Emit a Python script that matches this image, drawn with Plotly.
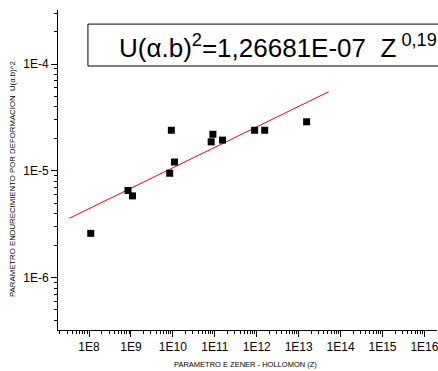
import plotly.graph_objects as go

# Data
z_vals = [1.1e8, 8.5e8, 1.09e9, 8.4e9, 1.09e10, 9.2e9, 8.2e10, 9.0e10, 1.53e11, 8.9e11, 1.55e12, 1.55e13]
u_vals = [2.6e-6, 6.55e-6, 5.83e-6, 9.5e-6, 1.21e-5, 2.4e-5, 1.87e-5, 2.2e-5, 1.94e-5, 2.4e-5, 2.4e-5, 2.88e-5]

fit_x = [3.4e7, 5.2e13]
fit_y = [3.6e-6, 5.5e-5]

x_tickvals = [1e8, 1e9, 1e10, 1e11, 1e12, 1e13, 1e14, 1e15, 1e16]
x_ticktext = ["1E8", "1E9", "1E10", "1E11", "1E12", "1E13", "1E14", "1E15", "1E16"]
y_tickvals = [1e-6, 1e-5, 1e-4]
y_ticktext = ["1E-6", "1E-5", "1E-4"]

x_minor = [k * 10.0 ** e for e in range(7, 17) for k in range(2, 10)]
y_minor = [k * 10.0 ** e for e in range(-7, -3) for k in range(2, 10)]

FONT = "Arial, Liberation Sans, sans-serif"

fig = go.Figure()
fig.add_trace(go.Scatter(x=fit_x, y=fit_y, mode="lines",
                         line=dict(color="#ff0000", width=1), showlegend=False))
fig.add_trace(go.Scatter(x=z_vals, y=u_vals, mode="markers",
                         marker=dict(symbol="square", size=7, color="black"),
                         showlegend=False))

axis_common = dict(showgrid=False, zeroline=False, showline=True, linecolor="black",
                   linewidth=1, ticks="outside", tickcolor="black", ticklen=6,
                   ticklabeloverflow="allow",
                   tickfont=dict(family=FONT, size=12, color="black"))

fig.update_xaxes(type="log", range=[7.26, 16.3], tickmode="array",
                 tickvals=x_tickvals, ticktext=x_ticktext,
                 minor=dict(ticks="outside", ticklen=3, tickcolor="black", tickmode="array",
                            tickvals=x_minor, showgrid=False),
                 **axis_common)
fig.update_yaxes(type="log", range=[-6.49, -3.494], tickmode="array",
                 tickvals=y_tickvals, ticktext=y_ticktext,
                 minor=dict(ticks="outside", ticklen=3, tickcolor="black", tickmode="array",
                            tickvals=y_minor, showgrid=False),
                 **axis_common)

# Equation box
fig.add_shape(type="rect", xref="paper", yref="paper", x0=0.079, x1=1.3, y0=0.825, y1=0.956,
              line=dict(color="black", width=1), fillcolor="rgba(0,0,0,0)")
fig.add_annotation(xref="paper", yref="paper", x=(117 - 58) / 379, y=0.885, xanchor="left", yanchor="middle",
                   text="U(α.b)<sup>2</sup>=1,26681E-07&nbsp;&nbsp;Z<sup>&nbsp;0,19</sup>",
                   showarrow=False, font=dict(family=FONT, size=26, color="black"))

# Axis titles
fig.add_annotation(xref="paper", yref="paper", x=(245 - 58) / 379, y=0, yshift=-34,
                   xanchor="center", yanchor="middle", showarrow=False,
                   text="PARAMETRO E ZENER - HOLLOMON (Z)",
                   font=dict(family=FONT, size=7.5, color="black"))
fig.add_annotation(xref="paper", yref="paper", x=0, xshift=-46, y=(330 - 179) / 320,
                   xanchor="center", yanchor="middle", showarrow=False, textangle=-90,
                   text="PARAMETRO ENDURECIMIENTO POR DEFORMACION&nbsp;&nbsp;U(α.b)^2",
                   font=dict(family=FONT, size=7.8, color="black"))

fig.update_layout(width=438, height=371,
                  margin=dict(l=58, r=1, t=10, b=41, autoexpand=False),
                  plot_bgcolor="white", paper_bgcolor="white")

fig.write_html("out.html", config={"displayModeBar": False},
               post_script="document.body.style.margin='0';document.body.style.overflow='hidden';")
